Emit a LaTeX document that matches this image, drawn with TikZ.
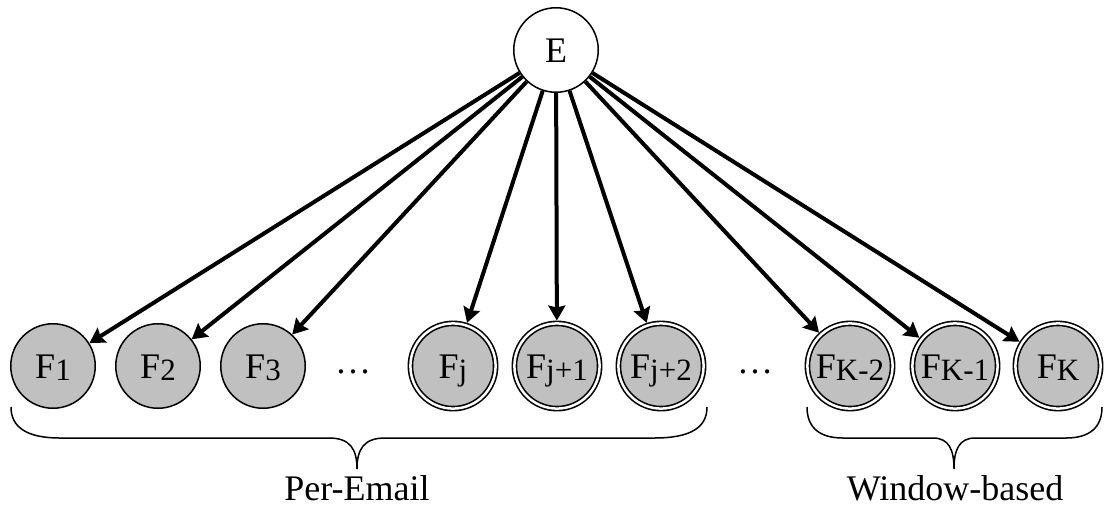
\documentclass[tikz,border=0pt]{standalone}
\usepackage{fontspec}
\setmainfont{Liberation Serif}
\usetikzlibrary{arrows.meta}
\definecolor{nodegray}{RGB}{192,192,192}
% lowered, smaller index after a feature letter
\newcommand{\fidx}[1]{\raisebox{-2pt}{\fontsize{31}{31}\selectfont #1}}

\begin{document}
\begin{tikzpicture}[x=1pt,y=-1pt,
  every node/.style={font=\fontsize{36}{40}\selectfont, inner sep=0pt},
  root/.style={circle, draw, line width=1.5pt, fill=white, minimum size=84.5pt,
    text height=24pt, text depth=0pt},
  feature/.style={circle, draw, line width=1.5pt, fill=nodegray, minimum size=84.5pt,
    text height=24pt, text depth=0pt},
  windowed/.style={circle, draw, line width=1.6pt, double, double distance=2.5pt,
    fill=nodegray, minimum size=85.2pt, outer sep=2.85pt,
    text height=24pt, text depth=0pt},
  edge/.style={line width=4pt, -{Stealth[length=15pt,width=17pt,inset=2pt]}},
  brace/.style={line width=1.5pt}]

\useasboundingbox (0,0) rectangle (1105,507);

% class node
\node[root] (E) at (556,50) {E};

% per-email features
\node[feature]  (F1)  at (53,366)   {F\fidx{1}};
\node[feature]  (F2)  at (158,366)  {F\fidx{2}};
\node[feature]  (F3)  at (263,366)  {F\fidx{3}};
\node[anchor=base] (d1) at (353,373) {…};
\node[windowed] (Fj)  at (453,366)  {F\fidx{j}};
\node[windowed] (Fj1) at (557,366)  {F\fidx{j+1}};
\node[windowed] (Fj2) at (661,366)  {F\fidx{j+2}};
\node[anchor=base] (d2) at (755,373) {…};

% window-based features
\node[windowed] (FK2) at (850,366)  {F\fidx{K-2}};
\node[windowed] (FK1) at (955,366)  {F\fidx{K-1}};
\node[windowed] (FK)  at (1058,366) {F\fidx{K}};

\foreach \f in {F1,F2,F3,Fj,Fj1,Fj2,FK2,FK1,FK}
  \draw[edge] (E) -- (\f);

% group braces
\draw[brace] (11,407) .. controls (11,428) and (28,438) .. (60,438) -- (329,438)
  .. controls (350,438) and (357,449) .. (357,469)
  .. controls (357,449) and (364,438) .. (385,438) -- (654,438)
  .. controls (690,438) and (707,428) .. (707,407);
\draw[brace] (807,407) .. controls (807,428) and (820,438) .. (843,438) -- (933,438)
  .. controls (949,438) and (954,450) .. (954,469)
  .. controls (954,450) and (959,438) .. (975,438) -- (1066,438)
  .. controls (1089,438) and (1102,428) .. (1102,407);

\node[anchor=base] (pe) at (357,500) {Per-Email};
\node[anchor=base] (wb) at (955,500) {Window-based};
\end{tikzpicture}
\end{document}
